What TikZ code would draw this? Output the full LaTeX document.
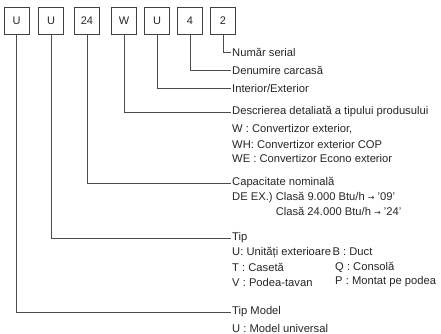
\documentclass[tikz,border=0pt]{standalone}
\usepackage{fontspec}
\setmainfont{Liberation Sans}
\newfontfamily\arrowfont{DejaVu Sans}
\newcommand{\toarrow}{{\arrowfont\fontsize{8}{9}\selectfont →}}

\begin{document}
\begin{tikzpicture}[x=1pt,y=-1pt,
  codebox/.style={draw=black!75, line width=0.7pt, minimum width=25pt, minimum height=27pt, inner sep=2pt, text=black!85, font=\fontsize{11}{13}\selectfont},
  lbl/.style={anchor=west, inner sep=1pt, text=black!85, font=\fontsize{11.2}{13}\selectfont},
  conn/.style={draw=black!70, line width=0.8pt}]
\useasboundingbox (0,0) rectangle (441,334);

% code boxes
\node[codebox] (uniform) at (16.5,21) {U};
\node[codebox] (type) at (51,21) {U};
\node[codebox] (capacity) at (87,21) {24};
\node[codebox] (detail) at (124,21) {W};
\node[codebox] (inout) at (157,21) {U};
\node[codebox] (chassis) at (190,21) {4};
\node[codebox] (serial) at (223,21) {2};

% headings
\node[lbl] (serialtxt) at (231,52) {Număr serial};
\node[lbl] (chassistxt) at (231,70) {Denumire carcasă};
\node[lbl] (inouttxt) at (231,88) {Interior/Exterior};
\node[lbl] (detailtxt) at (231,112) {Descrierea detaliată a tipului produsului};
\node[lbl] (capacitytxt) at (231,183) {Capacitate nominală};
\node[lbl] (typetxt) at (231,238) {Tip};
\node[lbl] (uniformtxt) at (231,312) {Tip Model};

% details
\node[lbl] at (231,129) {W : Convertizor exterior,};
\node[lbl] at (231,144) {WH: Convertizor exterior COP};
\node[lbl] at (231,158) {WE : Convertizor Econo exterior};

\node[lbl] at (231,198) {DE EX.) Clasă 9.000 Btu/h \toarrow{} '09'};
\node[lbl] at (231,213) {\phantom{DE EX.) }Clasă 24.000 Btu/h \toarrow{} '24'};

\node[lbl] (unit) at (231,253) {U: Unități exterioare};
\node[lbl, anchor=base west, inner xsep=0pt] at (unit.base east) {B : Duct};
\node[lbl] at (231,267) {T : Casetă};
\node[lbl] at (334,267) {Q : Consolă};
\node[lbl] at (231,282) {V : Podea-tavan};
\node[lbl] at (334,282) {P : Montat pe podea};

\node[lbl] at (231,328) {U : Model universal};

% connectors
\draw[conn] (serial.south) |- (serialtxt.west);
\draw[conn] (chassis.south) |- (chassistxt.west);
\draw[conn] (inout.south) |- (inouttxt.west);
\draw[conn] (detail.south) |- (detailtxt.west);
\draw[conn] (capacity.south) |- (capacitytxt.west);
\draw[conn] (type.south) |- (typetxt.west);
\draw[conn] (uniform.south) |- (uniformtxt.west);

\end{tikzpicture}
\end{document}
